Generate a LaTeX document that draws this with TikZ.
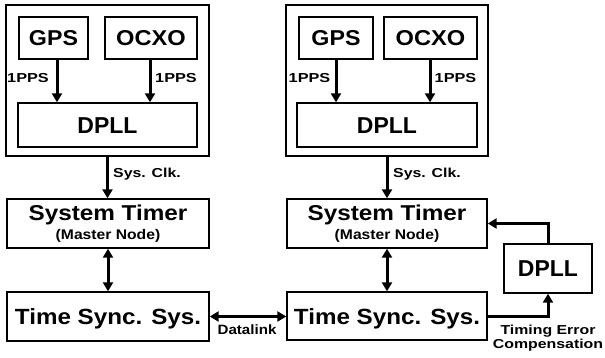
\documentclass[tikz,border=0pt]{standalone}
\usepackage{fontspec}
\setmainfont{Liberation Sans}
\usetikzlibrary{arrows.meta,calc}
\newcommand{\hsc}[2]{\scalebox{#1}[1]{#2}}
\begin{document}
\begin{tikzpicture}[x=1pt,y=-1pt,
  outer/.style={draw, line width=1.8pt, inner sep=0pt},
  box/.style={draw, line width=1.4pt, inner sep=0pt},
  big/.style={font=\fontsize{21.5}{24}\selectfont\bfseries, text height=15.5pt, text depth=0pt},
  dp/.style={font=\fontsize{23}{26}\selectfont\bfseries, text height=16.5pt, text depth=0pt},
  huge/.style={font=\fontsize{22}{25}\selectfont\bfseries, text height=16pt, text depth=0pt},
  mid/.style={font=\fontsize{21.5}{24}\selectfont\bfseries, inner sep=0pt, anchor=base},
  sub/.style={font=\fontsize{14}{16}\selectfont\bfseries, inner sep=0pt, anchor=base},
  lbl/.style={font=\fontsize{13}{15}\selectfont\bfseries, inner sep=0pt, anchor=base},
  arr/.style={line width=3pt, -{Triangle[length=9pt,width=10pt]}},
  darr/.style={line width=3pt, {Triangle[length=9pt,width=10pt]}-{Triangle[length=9pt,width=10pt]}},
  ln/.style={line width=3pt}
]
\useasboundingbox (0,0) rectangle (605,358);

% ---------- left master ----------
\node[outer, minimum width=203pt, minimum height=151pt] (outerL) at (107.5,80.5) {};
\node[box, big, minimum width=69pt, minimum height=42pt] (gpsL) at (53.5,38) {\hsc{1.08}{GPS}};
\node[box, big, minimum width=92pt, minimum height=42pt] (ocxoL) at (151,38) {\hsc{1.1}{OCXO}};
\node[box, dp, minimum width=179pt, minimum height=44pt] (dpllL) at (107.5,125) {DPLL};
\coordinate (gaL) at (57,0);
\coordinate (oaL) at (150,0);
\draw[arr] (gaL |- gpsL.south) -- (gaL |- dpllL.north);
\draw[arr] (oaL |- ocxoL.south) -- (oaL |- dpllL.north);
\node[lbl] (ppsL1) at (28,83) {\hsc{1.25}{1PPS}};
\node[lbl] (ppsL2) at (176,83) {\hsc{1.25}{1PPS}};

\node[box, minimum width=202pt, minimum height=49pt] (stL) at (108,223.5) {};
\node[mid] (stLt) at (108,221) {\hsc{1.13}{System Timer}};
\node[sub] (stLm) at (108,239.5) {\hsc{1.12}{(Master Node)}};
\node[box, huge, minimum width=202pt, minimum height=49pt] (tsL) at (108,316.5) {\hsc{1.1}{Time Sync. Sys.}};

\draw[arr] (outerL.south) -- (outerL.south |- stL.north);
\node[lbl, anchor=base west] (skL) at (113,178) {\hsc{1.22}{Sys. Clk.}};
\draw[darr] (stL.south) -- (stL.south |- tsL.north);

% ---------- right slave ----------
\node[outer, minimum width=202pt, minimum height=151pt] (outerR) at (387,80.5) {};
\node[box, big, minimum width=74pt, minimum height=42pt] (gpsR) at (336,38) {\hsc{1.08}{GPS}};
\node[box, big, minimum width=93pt, minimum height=42pt] (ocxoR) at (430.5,38) {\hsc{1.1}{OCXO}};
\node[box, dp, minimum width=180pt, minimum height=44pt] (dpllR) at (387,125) {DPLL};
\coordinate (gaR) at (336,0);
\coordinate (oaR) at (430,0);
\draw[arr] (gaR |- gpsR.south) -- (gaR |- dpllR.north);
\draw[arr] (oaR |- ocxoR.south) -- (oaR |- dpllR.north);
\node[lbl] (ppsR1) at (309.5,83) {\hsc{1.25}{1PPS}};
\node[lbl] (ppsR2) at (455.5,83) {\hsc{1.25}{1PPS}};

\node[box, minimum width=200pt, minimum height=49pt] (stR) at (387,223.5) {};
\node[mid] (stRt) at (387,221) {\hsc{1.13}{System Timer}};
\node[sub] (stRm) at (387,239.5) {\hsc{1.12}{(Master Node)}};
\node[box, huge, minimum width=200pt, minimum height=48pt] (tsR) at (387,316) {\hsc{1.1}{Time Sync. Sys.}};

\draw[arr] (outerR.south) -- (outerR.south |- stR.north);
\node[lbl, anchor=base west] (skR) at (393,178) {\hsc{1.22}{Sys. Clk.}};
\draw[darr] (stR.south) -- (stR.south |- tsR.north);

% ---------- datalink ----------
\draw[darr] (tsL.east) -- (tsL.east -| tsR.west);
\node[lbl, font=\fontsize{13.5}{15}\selectfont\bfseries] (dl) at (247,334) {\hsc{1.12}{Datalink}};

% ---------- compensation DPLL ----------
\node[box, dp, minimum width=88pt, minimum height=49pt] (dpllS) at (548,268.5) {DPLL};
\draw[arr] (dpllS.north) |- (stR.east);
\draw[arr] (tsR.east) -| (dpllS.south);
\node[lbl, font=\fontsize{13}{15}\selectfont\bfseries] (te1) at (548,334.5) {\hsc{1.22}{Timing Error}};
\node[lbl, font=\fontsize{13}{15}\selectfont\bfseries] (te2) at (548,348.5) {\hsc{1.22}{Compensation}};
\end{tikzpicture}
\end{document}
